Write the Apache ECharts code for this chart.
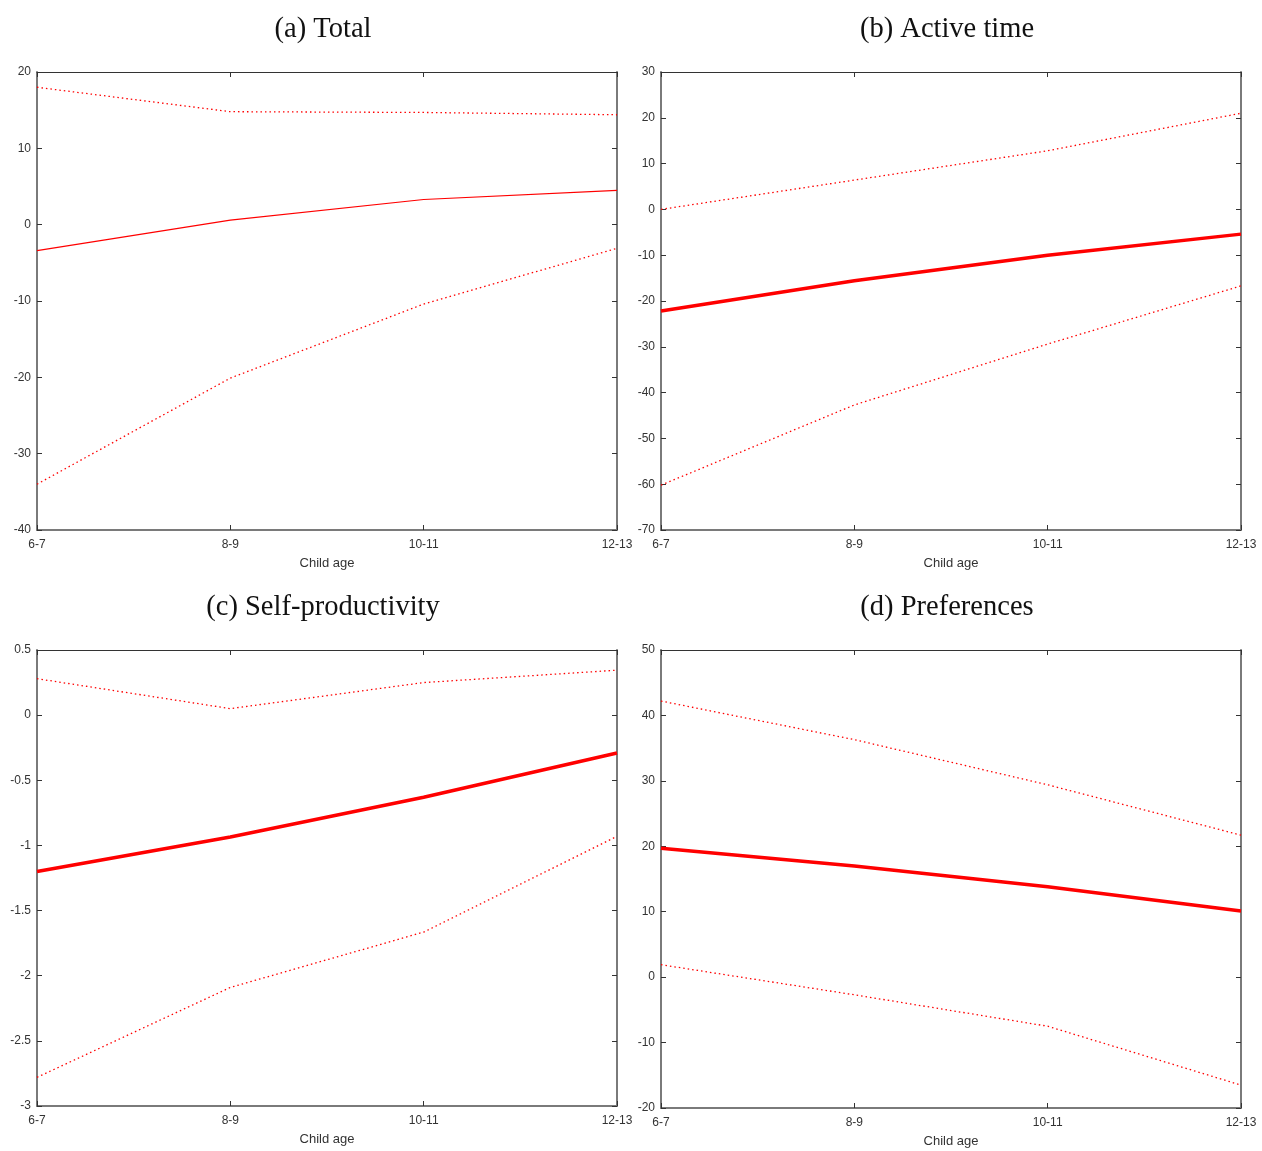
<!DOCTYPE html>
<html>
<head>
<meta charset="utf-8">
<script src="https://cdn.jsdelivr.net/npm/echarts@6/dist/echarts.min.js"></script>
<style>
  html, body { margin: 0; padding: 0; background: #fff; }
  #chart { width: 1262px; height: 1151px; }
</style>
</head>
<body>
<div id="chart"></div>
<script>
// Child age groups shared by all four panels
const ageGroups = ['6-7', '8-9', '10-11', '12-13'];

// (a) Total
const totalEst   = [-3.4, 0.6, 3.3, 4.5];
const totalUpper = [18.0, 14.8, 14.7, 14.4];
const totalLower = [-34.0, -20.1, -10.4, -3.1];

// (b) Active time
const activeEst   = [-22.2, -15.6, -10.0, -5.4];
const activeUpper = [0.0, 6.4, 12.8, 21.0];
const activeLower = [-60.2, -42.7, -29.4, -16.7];

// (c) Self-productivity
const selfEst   = [-1.20, -0.935, -0.63, -0.29];
const selfUpper = [0.28, 0.05, 0.25, 0.345];
const selfLower = [-2.78, -2.09, -1.665, -0.93];

// (d) Preferences
const prefEst   = [19.7, 17.0, 13.8, 10.1];
const prefUpper = [42.2, 36.3, 29.4, 21.7];
const prefLower = [1.9, -2.7, -7.5, -16.5];

// y-axis ranges: [min, max, interval]
const totalRange  = [-40, 20, 10];
const activeRange = [-70, 30, 10];
const selfRange   = [-3, 0.5, 0.5];
const prefRange   = [-20, 50, 10];

const panelTitles = ['(a) Total', '(b) Active time', '(c) Self-productivity', '(d) Preferences'];
const xAxisTitle = 'Child age';

const panels = [
  { title: panelTitles[0], est: totalEst,  up: totalUpper,  lo: totalLower,  range: totalRange,  thick: false,
    grid: { left: 37, top: 72, width: 580, height: 458 } },
  { title: panelTitles[1], est: activeEst, up: activeUpper, lo: activeLower, range: activeRange, thick: true,
    grid: { left: 661, top: 72, width: 580, height: 458 } },
  { title: panelTitles[2], est: selfEst,   up: selfUpper,   lo: selfLower,   range: selfRange,   thick: true,
    grid: { left: 37, top: 650, width: 580, height: 456 } },
  { title: panelTitles[3], est: prefEst,   up: prefUpper,   lo: prefLower,   range: prefRange,   thick: true,
    grid: { left: 661, top: 650, width: 580, height: 458 } }
];

const sans = 'Liberation Sans, Arial, sans-serif';
const serif = 'Liberation Serif, Times New Roman, serif';
const frameGray = '#7a7a7a';
const tickColor = '#333';

const option = {
  animation: false,
  backgroundColor: '#fff',
  title: [], grid: [], xAxis: [], yAxis: [], series: []
};

panels.forEach((p, i) => {
  const g = p.grid;
  option.grid.push({ left: g.left, top: g.top, width: g.width, height: g.height, containLabel: false });

  option.title.push({
    text: p.title,
    left: g.left + g.width / 2 - 9,
    top: g.top - 62,
    textAlign: 'center',
    textStyle: { fontFamily: serif, fontSize: 28.5, fontWeight: 'normal', color: '#111' }
  });

  // bottom category axis with labels and name
  option.xAxis.push({
    gridIndex: i, type: 'category', data: ageGroups, boundaryGap: false, position: 'bottom',
    name: xAxisTitle, nameLocation: 'middle', nameGap: 27,
    nameTextStyle: { fontFamily: sans, fontSize: 13, color: '#333' },
    axisLine: { onZero: false, lineStyle: { color: frameGray, width: 2 } },
    axisTick: { inside: true, length: 5, lineStyle: { color: tickColor } },
    axisLabel: { fontFamily: sans, fontSize: 12, color: '#333', margin: 9 },
    splitLine: { show: false }
  });
  // mirrored top axis (frame + ticks only)
  option.xAxis.push({
    gridIndex: i, type: 'category', data: ageGroups, boundaryGap: false, position: 'top',
    axisLine: { onZero: false, lineStyle: { color: '#333', width: 1 } },
    axisTick: { inside: true, length: 5, lineStyle: { color: tickColor } },
    axisLabel: { show: false },
    splitLine: { show: false }
  });
  // left value axis with labels
  option.yAxis.push({
    gridIndex: i, type: 'value', position: 'left',
    min: p.range[0], max: p.range[1], interval: p.range[2],
    axisLine: { show: true, onZero: false, lineStyle: { color: frameGray, width: 2 } },
    axisTick: { show: true, inside: true, length: 5, lineStyle: { color: tickColor } },
    axisLabel: { fontFamily: sans, fontSize: 12, color: '#333', margin: 6, padding: [2, 0, 0, 0] },
    splitLine: { show: false }
  });
  // mirrored right axis (frame + ticks only)
  option.yAxis.push({
    gridIndex: i, type: 'value', position: 'right',
    min: p.range[0], max: p.range[1], interval: p.range[2],
    axisLine: { show: true, onZero: false, lineStyle: { color: frameGray, width: 2 } },
    axisTick: { show: true, inside: true, length: 5, lineStyle: { color: tickColor } },
    axisLabel: { show: false },
    splitLine: { show: false }
  });

  const xi = i * 2, yi = i * 2;
  const dotted = { color: '#ff0000', width: 1.3, type: [1.5, 3] };
  option.series.push(
    { type: 'line', xAxisIndex: xi, yAxisIndex: yi, data: p.up, symbol: 'none', silent: true,
      lineStyle: dotted },
    { type: 'line', xAxisIndex: xi, yAxisIndex: yi, data: p.lo, symbol: 'none', silent: true,
      lineStyle: dotted },
    { type: 'line', xAxisIndex: xi, yAxisIndex: yi, data: p.est, symbol: 'none', silent: true,
      lineStyle: { color: '#ff0000', width: p.thick ? 3.5 : 1.2, type: 'solid' } }
  );
});

const chart = echarts.init(document.getElementById('chart'), null, { renderer: 'canvas' });
chart.setOption(option);
</script>
</body>
</html>
